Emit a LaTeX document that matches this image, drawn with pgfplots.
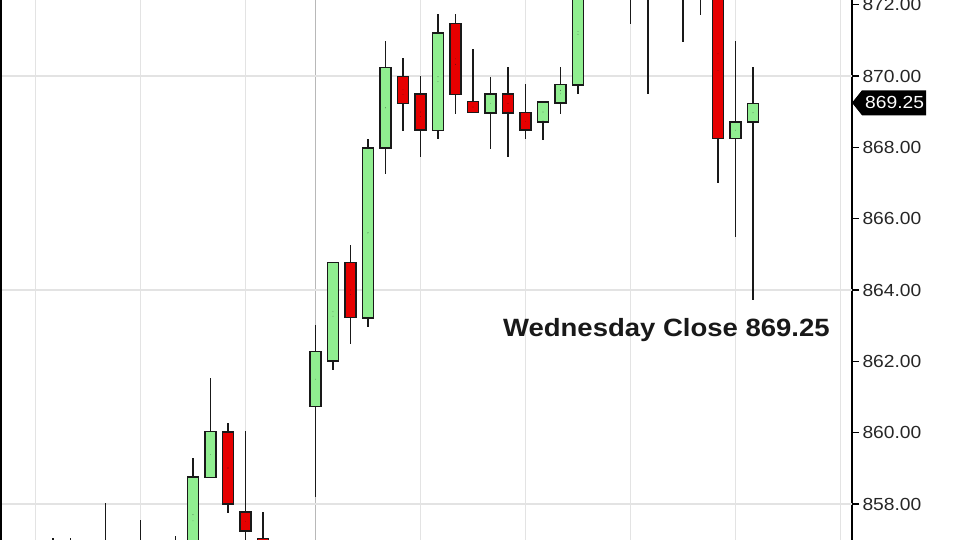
\documentclass[border=0pt]{standalone}
\usepackage{pgfplots}
\pgfplotsset{compat=1.18}
\usepackage{pgfplotstable}
\usepackage{fontspec}
\setmainfont{Liberation Sans}
\newfontfamily\axfont[FakeStretch=1.1]{Liberation Sans}

\definecolor{candgreen}{HTML}{90EE90}
\definecolor{candred}{HTML}{E60000}
\definecolor{gridlight}{HTML}{E3E3E3}
\definecolor{griddark}{HTML}{B8B8B8}

% k = bar index (0 = first bar of the session), open high low close
\pgfplotstableread{
k   o       h       l       c
-15 856.50  857.06  856.00  856.70
-14 856.70  857.06  856.20  856.40
-12 856.50  858.03  856.00  856.80
-10 856.80  857.55  856.20  856.40
-8  856.40  857.13  855.90  856.30
-7  856.30  859.30  856.10  858.77
-6  858.75  861.55  858.75  860.03
-5  860.03  860.28  857.74  858.00
-4  857.78  860.05  856.60  857.25
-3  857.04  857.79  856.00  856.40
0   860.73  863.02  858.22  862.27
1   862.01  864.78  861.76  864.78
2   864.78  865.28  862.49  863.23
3   863.23  868.25  862.97  867.99
4   867.99  870.99  867.25  870.24
5   870.00  870.51  868.47  869.25
6   869.51  870.00  867.74  868.49
7   868.49  871.74  868.23  871.22
8   871.49  871.74  868.95  869.50
9   869.28  870.76  868.97  868.97
10  868.97  870.00  867.97  869.51
11  869.51  870.26  867.74  868.97
12  868.98  869.78  868.23  868.49
13  868.72  869.28  868.23  869.28
14  869.25  870.26  868.95  869.77
15  869.76  873.00  869.50  872.60
18  872.90  873.50  871.47  872.50
19  872.50  873.00  869.50  872.80
21  873.10  873.30  870.96  872.60
22  872.60  873.20  871.71  873.00
23  873.00  873.30  867.01  868.25
24  868.25  870.99  865.48  868.72
25  868.72  870.26  863.74  869.25
}\candles

% a candle part is a vertical error bar of a given width
\pgfplotsset{
  part/.style 2 args={only marks, mark=*, mark size=0.01pt, #1,
    error bars/.cd, y dir=both, y explicit, error mark=none,
    error bar style={#1, line width=#2, line cap=butt}},
}

\begin{document}
\begin{tikzpicture}
\useasboundingbox (0,0) rectangle (960bp,540bp);
\clip (0,0) rectangle (960bp,540bp);
\begin{axis}[
  at={(1bp,0)}, anchor=south west,
  scale only axis, width=851bp, height=540bp,
  xmin=-17.97, xmax=30.657,
  ymin=856.992, ymax=872.131,
  unbounded coords=discard,
  separate axis lines,
  x axis line style={draw=none},
  y axis line style={black, line width=1.8bp},
  xtick={-16,-10,-4,6,12,18,24,30}, xticklabels={},
  extra x ticks={0}, extra x tick labels={},
  extra x tick style={major grid style={griddark, line width=1.5bp}},
  xtick style={draw=none},
  xmajorgrids,
  major grid style={gridlight, line width=1.3bp},
  ytick={858,860,...,872},
  extra y ticks={858,864,870}, extra y tick labels={},
  extra y tick style={grid=major},
  ytick pos=right, yticklabel pos=right,
  tick align=outside, major tick length=7bp,
  ytick style={black, line width=1.2bp},
  yticklabel style={font=\axfont\fontsize{17.5bp}{20bp}\selectfont, text=black!85,
    /pgf/number format/.cd, fixed, fixed zerofill, precision=2, assume math mode=true},
]
% wicks
\addplot[part={black!90}{1.6bp}] table[x=k,
  y expr={(\thisrow{h}+\thisrow{l})/2},
  y error expr={(\thisrow{h}-\thisrow{l})/2}] {\candles};
% body outlines
\addplot[part={black!90}{12.4bp}] table[x=k,
  y expr={(\thisrow{o}+\thisrow{c})/2},
  y error expr={abs(\thisrow{c}-\thisrow{o})/2+0.021}] {\candles};
% rising bodies
\addplot[part={candgreen}{9.4bp}] table[x=k,
  y expr={\thisrow{c}>=\thisrow{o} ? (\thisrow{o}+\thisrow{c})/2 : nan},
  y error expr={abs(\thisrow{c}-\thisrow{o})/2-0.021}] {\candles};
% falling bodies
\addplot[part={candred}{9.4bp}] table[x=k,
  y expr={\thisrow{c}<\thisrow{o} ? (\thisrow{o}+\thisrow{c})/2 : nan},
  y error expr={abs(\thisrow{c}-\thisrow{o})/2-0.021}] {\candles};
\node[anchor=base west, inner sep=0pt, text=black!90,
  font=\axfont\bfseries\fontsize{25bp}{30bp}\selectfont]
  at (axis cs:10.71,862.71) {Wednesday Close 869.25};
\coordinate (tagpt) at (axis cs:30.657,869.25);
\coordinate (lefttop) at (rel axis cs:0,1);
\coordinate (leftbot) at (rel axis cs:0,0);
\end{axis}
% frame line on the left edge of the chart window
\draw[black, line width=2.4bp] ([xshift=0.2bp]leftbot) -- ([xshift=0.2bp]lefttop);
\fill[black] (tagpt) -- ++(10bp,12.5bp) -- ++(64bp,0) -- ++(0,-25bp)
  -- ++(-64bp,0) -- cycle;
\node[anchor=west, inner sep=0pt, text=white,
  font=\axfont\fontsize{17.5bp}{20bp}\selectfont]
  at ([xshift=13bp]tagpt) {869.25};
\end{tikzpicture}
\end{document}
